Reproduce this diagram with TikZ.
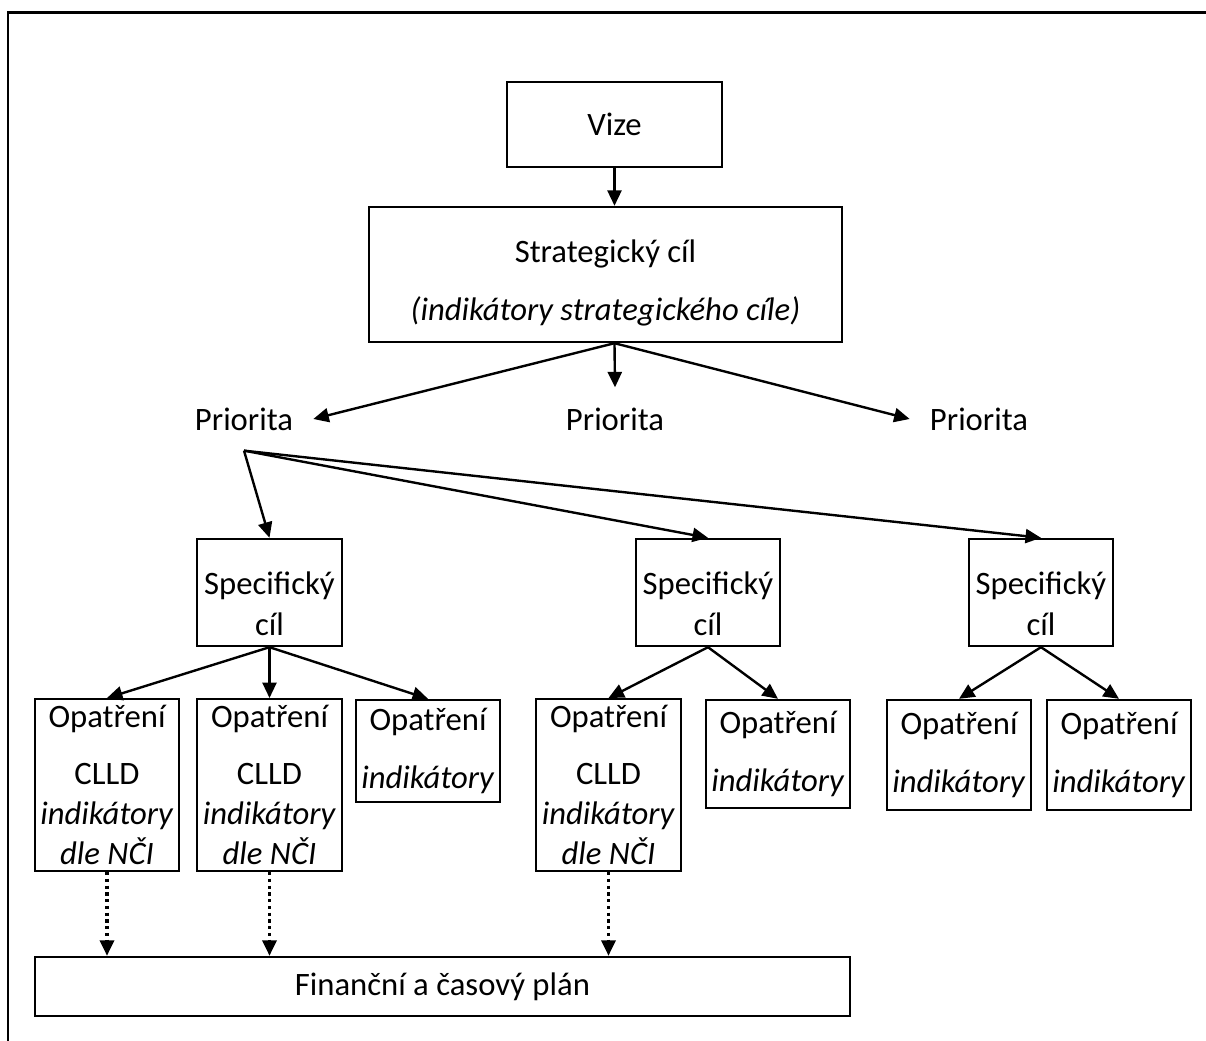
\documentclass[tikz,border=0pt]{standalone}
\usepackage{fontspec}
\setmainfont{Carlito}
\usetikzlibrary{arrows.meta,positioning,calc}
\newcommand{\px}{0.355pt}
\tikzset{
  base/.style={font=\fontsize{11.6}{14.3}\selectfont},
  box/.style={base,draw,line width=0.85pt,align=center,inner sep=2pt},
  boxwh/.style 2 args={box,minimum width=#1*\px,minimum height=#2*\px},
  arr/.style={line width=0.85pt,-{Triangle[length=5.5pt,width=5pt]}},
  dotarr/.style={arr,line width=1.2pt,dash pattern=on 1.2pt off 1.2pt},
  prio/.style={base,inner sep=7pt}
}

\begin{document}
\begin{tikzpicture}[x=\px,y=-\px]
  \useasboundingbox (0,0) rectangle (1206,1041);
  % frame
  \draw[line width=0.85pt] (8,1041) -- (8,12.5) -- (1206,12.5);
  % top
  \node[boxwh={215}{85}] (vize) at (614.5,124.5) {Vize};
  \node[boxwh={473}{135}] (strat) at (605.5,274.5)
    {\rule{0pt}{14pt}Strategický cíl\\[6pt]\textit{(indikátory strategického cíle)}};
  \node[prio] (p1) at (244,419) {Priorita};
  \node[prio] (p2) at (615,419) {Priorita};
  \node[prio] (p3) at (979,419) {Priorita};
  % specific goals
  \node[boxwh={145}{107}] (s1) at (269.5,592.5) {\rule{0pt}{16pt}Specifický\\cíl};
  \node[boxwh={144}{107}] (s2) at (708,592.5) {\rule{0pt}{16pt}Specifický\\cíl};
  \node[boxwh={144}{107}] (s3) at (1041,592.5) {\rule{0pt}{16pt}Specifický\\cíl};
  % measures
  \node[boxwh={144}{170}] (o1) at (107,785)
    {Opatření\\[6pt]CLLD\\\textit{indikátory}\\\textit{dle NČI}};
  \node[boxwh={145}{170}] (o2) at (269.5,785)
    {Opatření\\[6pt]CLLD\\\textit{indikátory}\\\textit{dle NČI}};
  \node[boxwh={138}{102}] (o3) at (428,751) {Opatření\\[6pt]\textit{indikátory}};
  \node[boxwh={141}{170}] (o4) at (608.5,785)
    {Opatření\\[6pt]CLLD\\\textit{indikátory}\\\textit{dle NČI}};
  \node[boxwh={144}{108}] (o5) at (778,754) {Opatření\\[6pt]\textit{indikátory}};
  \node[boxwh={142}{110}] (o6) at (959,755) {Opatření\\[6pt]\textit{indikátory}};
  \node[boxwh={142}{110}] (o7) at (1119,755) {Opatření\\[6pt]\textit{indikátory}};
  \node[boxwh={815}{59}] (fin) at (442.5,986.5) {Finanční a časový plán};
  % arrows
  \draw[arr] (vize.south) -- (vize.south |- strat.north);
  \coordinate (sfoot) at (vize.south |- strat.south);
  \draw[arr] (sfoot) -- (p1.east);
  \draw[arr] (sfoot) -- (p2.north);
  \draw[arr] (sfoot) -- (p3.west);
  \foreach \t in {s1,s2,s3}{
    \draw[arr] (p1.south) -- (\t.north);
  }
  \foreach \a/\b in {s1/o1, s1/o2, s1/o3, s2/o4, s2/o5, s3/o6, s3/o7}{
    \draw[arr] (\a.south) -- (\b.north);
  }
  \foreach \a in {o1,o2,o4}{
    \draw[dotarr] (\a.south) -- (\a.south |- fin.north);
  }
\end{tikzpicture}
\end{document}
